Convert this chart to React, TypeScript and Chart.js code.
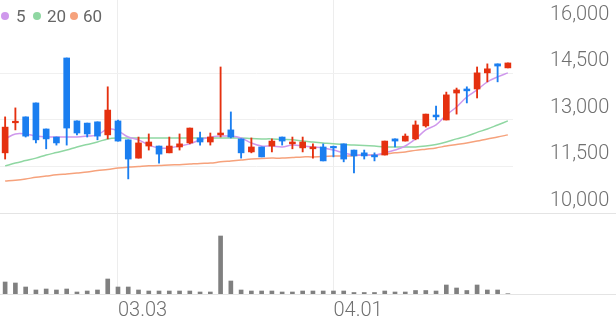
import React, { useEffect, useRef } from 'react';
import { Chart, registerables } from 'chart.js';

Chart.register(...registerables);

// ---- data ----
const dates = [
  '02.10', '02.11', '02.12', '02.13', '02.19', '02.20', '02.23', '02.24', '02.25', '02.26', '02.27',
  '03.03', '03.04', '03.05', '03.06', '03.09', '03.10', '03.11', '03.12', '03.13', '03.16', '03.17',
  '03.18', '03.19', '03.20', '03.23', '03.24', '03.25', '03.26', '03.27', '03.30', '03.31',
  '04.01', '04.02', '04.03', '04.06', '04.07', '04.08', '04.09', '04.10', '04.13', '04.14', '04.15',
  '04.16', '04.17', '04.20', '04.21', '04.22', '04.23', '04.24',
];

const openP = [
  11940, 12910, 13100, 13550, 12710, 12450, 15000, 12970, 12900, 12940,
  12520, 12970, 12360, 11770, 12160, 12160, 11940, 12130, 12260, 12420,
  12290, 12520, 12680, 12390, 11970, 12130, 12160, 12450, 12230, 12100,
  12070, 12130, 12130, 12230, 12030, 11940, 11870, 11870, 12390, 12320,
  12390, 12810, 13160, 13000, 13870, 14000, 14000, 14520, 14810, 14680,
];
const highP = [
  13100, 13390, 13100, 13550, 12710, 12450, 15000, 12970, 12900, 12940,
  14070, 13000, 12360, 12450, 12550, 12160, 12450, 12550, 12740, 12610,
  12580, 14710, 13260, 12390, 12420, 12130, 12390, 12450, 12450, 12450,
  12230, 12230, 12160, 12230, 12030, 12030, 11940, 12320, 12390, 12550,
  12970, 13190, 13450, 13900, 14030, 14070, 14710, 14810, 14810, 14840,
];
const lowP = [
  11740, 12680, 12450, 12260, 12070, 12190, 12190, 12520, 12450, 12360,
  12390, 12320, 11100, 11770, 12030, 11610, 11940, 12030, 12230, 12190,
  12190, 12450, 12420, 11770, 11940, 11810, 11970, 12190, 12070, 11970,
  11770, 11680, 11810, 11650, 11290, 11740, 11680, 11870, 12130, 12320,
  12360, 12770, 13000, 13000, 13190, 13550, 13710, 14230, 14230, 14680,
];
const closeP = [
  12770, 12960, 12480, 12360, 12390, 12260, 12740, 12580, 12550, 12480,
  13320, 12320, 11740, 12260, 12290, 11900, 12160, 12230, 12740, 12290,
  12450, 12580, 12450, 11940, 12130, 11810, 12320, 12320, 12290, 12290,
  12130, 11680, 12100, 11740, 11840, 11840, 11810, 12320, 12320, 12480,
  12840, 13190, 13100, 13810, 13970, 13940, 14520, 14650, 14740, 14840,
];
const volume = [
  120000, 110000, 70000, 40000, 50000, 40000, 50000, 20000, 30000, 40000,
  150000, 70000, 70000, 40000, 30000, 30000, 30000, 30000, 30000, 20000,
  20000, 580000, 130000, 40000, 30000, 30000, 30000, 20000, 20000, 30000,
  30000, 30000, 30000, 30000, 15000, 15000, 15000, 30000, 20000, 20000,
  35000, 35000, 30000, 90000, 60000, 35000, 90000, 40000, 40000, 3000,
];
const ma5 = [
  12390, 12550, 12550, 12480, 12450, 12450, 12450, 12450, 12480, 12520,
  12710, 12650, 12450, 12360, 12190, 12100, 12100, 12160, 12230, 12360,
  12450, 12480, 12480, 12420, 12260, 12160, 12160, 12130, 12190, 12160,
  12130, 12100, 12030, 11940, 11870, 11870, 11870, 11940, 12030, 12160,
  12390, 12680, 12840, 13160, 13420, 13740, 13970, 14230, 14390, 14520,
];
const ma20 = [
  11520, 11610, 11690, 11770, 11870, 11950, 12030, 12130, 12210, 12290,
  12390, 12420, 12420, 12420, 12420, 12420, 12420, 12420, 12420, 12420,
  12420, 12420, 12420, 12420, 12400, 12390, 12390, 12370, 12360, 12320,
  12290, 12260, 12230, 12210, 12190, 12180, 12160, 12130, 12130, 12130,
  12130, 12160, 12210, 12290, 12390, 12480, 12600, 12710, 12840, 12970,
];
const ma60 = [
  11030, 11060, 11100, 11150, 11190, 11230, 11260, 11290, 11320, 11370,
  11400, 11450, 11480, 11500, 11520, 11530, 11550, 11560, 11580, 11600,
  11610, 11650, 11680, 11710, 11740, 11760, 11770, 11770, 11790, 11810,
  11810, 11820, 11840, 11840, 11850, 11870, 11870, 11900, 11940, 11970,
  12020, 12060, 12100, 12160, 12210, 12260, 12320, 12390, 12450, 12520,
];
const priceTicks = [10000, 11500, 13000, 14500, 16000];
const maLabels = ['5', '20', '60'];
const maColors = ['#cf98ec', '#8fd7a2', '#f6a27c'];

const UP = '#e5300f';
const DOWN = '#1a7ef0';
const FONT = 'Roboto, "Noto Sans", sans-serif';

const isMonthStart = (i: number) =>
  i > 0 && i < dates.length && dates[i].slice(0, 2) !== dates[i - 1].slice(0, 2);

const separatorPlugin = {
  id: 'separators',
  beforeDatasetsDraw(chart: any) {
    const { ctx, width } = chart;
    const ys = [chart.scales.y.bottom, chart.chartArea.bottom];
    ctx.save();
    ctx.strokeStyle = '#e4e4e4';
    ctx.lineWidth = 1;
    ys.forEach((y: number) => {
      const yy = Math.round(y) + 0.5;
      ctx.beginPath();
      ctx.moveTo(0, yy);
      ctx.lineTo(width, yy);
      ctx.stroke();
    });
    ctx.restore();
  },
};

export default function App() {
  const ref = useRef<HTMLCanvasElement | null>(null);

  useEffect(() => {
    if (!ref.current) return;
    const up = closeP.map((c, i) => c >= openP[i]);
    const candleColors = up.map((u) => (u ? UP : DOWN));
    const topTick = priceTicks[priceTicks.length - 1];

    const chart = new Chart(ref.current, {
      type: 'bar',
      data: {
        labels: dates,
        datasets: [
          {
            type: 'bar',
            label: 'body',
            data: openP.map((o, i) => [Math.min(o, closeP[i]), Math.max(o, closeP[i])]) as any,
            backgroundColor: candleColors,
            borderWidth: 0,
            barThickness: 6,
            minBarLength: 1.5,
            grouped: false,
            yAxisID: 'y',
            order: 0,
          } as any,
          {
            type: 'bar',
            label: 'wick',
            data: lowP.map((l, i) => [l, highP[i]]) as any,
            backgroundColor: candleColors,
            borderWidth: 0,
            barThickness: 1.2,
            grouped: false,
            yAxisID: 'y',
            order: 1,
          } as any,
          ...[ma5, ma20, ma60].map((d, k) => ({
            type: 'line',
            label: maLabels[k],
            data: d,
            borderColor: maColors[k],
            borderWidth: 1.5,
            pointRadius: 0,
            tension: 0.35,
            fill: false,
            yAxisID: 'y',
            order: 2,
          })),
          {
            type: 'bar',
            label: 'volume',
            data: volume,
            backgroundColor: '#808080',
            borderWidth: 0,
            barThickness: 4,
            grouped: false,
            yAxisID: 'yv',
            order: 3,
          } as any,
        ],
      },
      options: {
        responsive: false,
        animation: false,
        events: [],
        layout: { padding: 0 },
        plugins: { legend: { display: false }, tooltip: { enabled: false } },
        scales: {
          x: {
            type: 'category',
            offset: true,
            grid: {
              offset: false,
              drawTicks: false,
              color: (c: any) => (isMonthStart(c.index) ? '#ededed' : 'rgba(0,0,0,0)'),
            },
            border: { display: false },
            ticks: {
              autoSkip: false,
              maxRotation: 0,
              minRotation: 0,
              align: 'start',
              padding: 5,
              color: '#707070',
              font: { family: FONT, size: 20, weight: '300' },
              callback: (_v: any, i: number) => (isMonthStart(i) ? dates[i] : ''),
            },
            afterFit: (s: any) => {
              s.height = 27;
              s.paddingLeft = 0;
              s.paddingRight = 0;
            },
          },
          y: {
            type: 'linear',
            position: 'right',
            stack: 'main',
            stackWeight: 213,
            min: 10000,
            max: 16870,
            afterBuildTicks: (s: any) => {
              s.ticks = priceTicks.map((v) => ({ value: v }));
            },
            grid: {
              color: (c: any) => (c.tick && c.tick.value === topTick ? 'rgba(0,0,0,0)' : '#f0f0f0'),
              drawTicks: true,
              tickLength: 37,
              tickColor: 'rgba(0,0,0,0)',
            },
            border: { display: false },
            ticks: {
              padding: 0,
              labelOffset: -12,
              color: '#707070',
              font: { family: FONT, size: 20, weight: '300' },
              callback: (v: any) => Number(v).toLocaleString('en-US'),
            },
            afterFit: (s: any) => {
              s.width = 103;
              s.paddingTop = 0;
              s.paddingBottom = 0;
            },
          },
          yv: {
            type: 'linear',
            position: 'right',
            stack: 'main',
            stackWeight: 81,
            min: 0,
            max: 810000,
            grid: { display: false },
            border: { display: false },
            ticks: { display: false },
            afterFit: (s: any) => {
              s.paddingTop = 0;
              s.paddingBottom = 0;
            },
          },
        },
      } as any,
      plugins: [separatorPlugin],
    });
    return () => chart.destroy();
  }, []);

  const legendPos = [
    { dot: 5, text: 16 },
    { dot: 37, text: 47 },
    { dot: 74, text: 83 },
  ];

  return (
    <div style={{ position: 'absolute', left: 0, top: 0, width: 616, height: 321, background: '#fff' }}>
      <canvas ref={ref} width={616} height={321} style={{ display: 'block', width: 616, height: 321 }} />
      {maLabels.map((lab, k) => (
        <React.Fragment key={lab}>
          <span
            style={{
              position: 'absolute',
              left: legendPos[k].dot - 4,
              top: 12,
              width: 8,
              height: 8,
              borderRadius: '50%',
              background: maColors[k],
            }}
          />
          <span
            style={{
              position: 'absolute',
              left: legendPos[k].text,
              top: 6,
              lineHeight: '20px',
              fontSize: 17,
              fontFamily: FONT,
              color: '#666',
              whiteSpace: 'nowrap',
            }}
          >
            {lab}
          </span>
        </React.Fragment>
      ))}
    </div>
  );
}
